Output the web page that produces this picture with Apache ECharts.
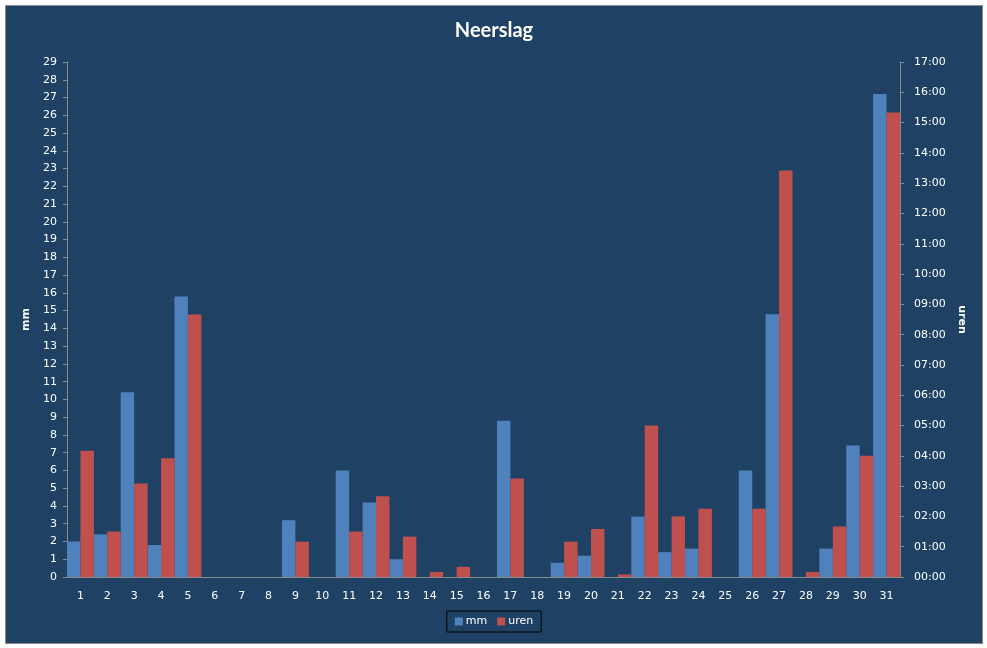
<!DOCTYPE html>
<html>
<head>
<meta charset="utf-8">
<script src="https://cdn.jsdelivr.net/npm/echarts@6/dist/echarts.min.js"></script>
<style>
  html, body { margin: 0; padding: 0; background: #ffffff; }
  #chart {
    position: absolute; left: 5px; top: 5px;
    width: 976px; height: 637px;
    border: 1px solid #8a8a8a;
    background: #1f4264;
  }
</style>
</head>
<body>
<div id="chart"></div>
<script>
// dagen van de maand
const dagen = ['1','2','3','4','5','6','7','8','9','10','11','12','13','14','15','16',
  '17','18','19','20','21','22','23','24','25','26','27','28','29','30','31'];

// neerslag in mm
const mm = [2.0, 2.4, 10.4, 1.8, 15.8, 0, 0, 0, 3.2, 0, 6.0, 4.2, 1.0, 0, 0, 0,
  8.8, 0, 0.8, 1.2, 0, 3.4, 1.4, 1.6, 0, 6.0, 14.8, 0, 1.6, 7.4, 27.2];

// duur van de neerslag (uu:mm)
const uren = ['4:10', '1:30', '3:05', '3:55', '8:40', '0:00', '0:00', '0:00', '1:10', '0:00',
  '1:30', '2:40', '1:20', '0:10', '0:20', '0:00', '3:15', '0:00', '1:10', '1:35', '0:05',
  '5:00', '2:00', '2:15', '0:00', '2:15', '13:25', '0:10', '1:40', '4:00', '15:20'];

let urenDec = uren.map((u) => {
    let p = u.split(':')
    return Number(p[0]) + Number(p[1]) / 60
})

const font = 'DejaVu Sans'
const tekst = '#ffffff'
const lijn = '#8a8a8a'

let chart = echarts.init(document.getElementById('chart'), null, { renderer: 'canvas' })

const option = {
    animation: false,
    textStyle: { fontFamily: font },
    title: {
        text: 'Neerslag',
        left: 'center',
        top: 15,
        padding: 0,
        textStyle: { color: tekst, fontSize: 20, fontWeight: 'bold', fontFamily: 'Lato' }
    },
    legend: {
        data: ['mm', 'uren'],
        left: 'center',
        top: 605,
        padding: [5, 8, 5, 8],
        borderColor: '#000000',
        borderWidth: 1,
        itemWidth: 8,
        itemHeight: 8,
        itemGap: 10,
        icon: 'rect',
        textStyle: { color: tekst, fontSize: 11, fontFamily: font, padding: [0, 0, 0, -2] }
    },
    grid: { left: 61, right: 82, top: 56, bottom: 66 },
    xAxis: {
        type: 'category',
        data: dagen,
        axisLine: { lineStyle: { color: lijn } },
        axisTick: { lineStyle: { color: lijn }, length: 5 },
        axisLabel: { color: tekst, fontSize: 11, margin: 14, fontFamily: font, interval: 0 }
    },
    yAxis: [
        {
            type: 'value',
            min: 0,
            max: 29,
            interval: 1,
            name: 'mm',
            nameLocation: 'middle',
            nameGap: 33,
            nameTextStyle: { color: tekst, fontSize: 11, fontWeight: 'bold', fontFamily: font },
            axisLine: { show: true, lineStyle: { color: lijn } },
            axisTick: { show: true, lineStyle: { color: lijn }, length: 4 },
            axisLabel: { color: tekst, fontSize: 11, margin: 10, fontFamily: font },
            splitLine: { show: false }
        },
        {
            type: 'value',
            min: 0,
            max: 17,
            interval: 1,
            position: 'right',
            name: 'uren',
            nameLocation: 'middle',
            nameRotate: -90,
            nameGap: 55,
            nameTextStyle: { color: tekst, fontSize: 11, fontWeight: 'bold', fontFamily: font },
            axisLine: { show: true, lineStyle: { color: lijn } },
            axisTick: { show: true, lineStyle: { color: lijn }, length: 4 },
            axisLabel: {
                color: tekst, fontSize: 11, margin: 14, fontFamily: font,
                formatter: (v) => String(v).padStart(2, '0') + ':00'
            },
            splitLine: { show: false }
        }
    ],
    series: [
        {
            name: 'mm',
            type: 'bar',
            data: mm,
            yAxisIndex: 0,
            barGap: '0%',
            barCategoryGap: '0%',
            itemStyle: { color: '#4f81bd' }
        },
        {
            name: 'uren',
            type: 'bar',
            data: urenDec,
            yAxisIndex: 1,
            itemStyle: { color: '#c0504d' }
        }
    ]
}

chart.setOption(option)
</script>
</body>
</html>
